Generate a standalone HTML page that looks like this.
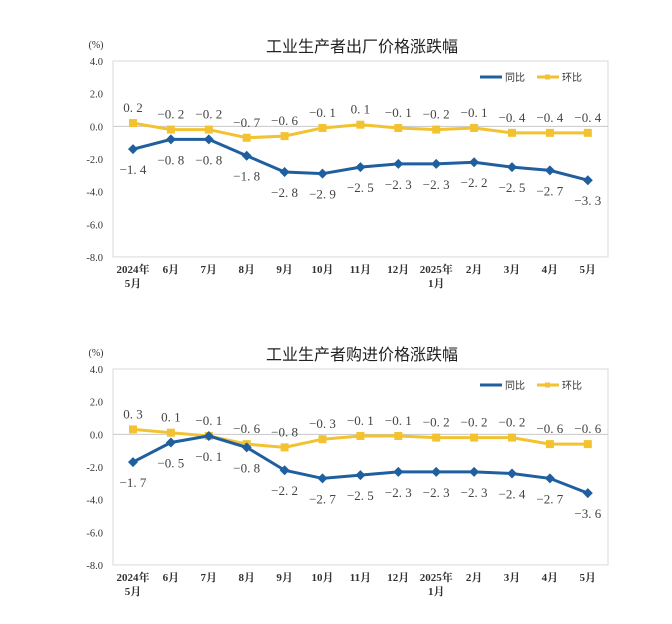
<!DOCTYPE html>
<html><head><meta charset="utf-8"><style>
body{margin:0;background:#fff;width:672px;height:624px;overflow:hidden}
svg{display:block}
</style></head><body>
<svg id="s" width="672" height="624" xmlns="http://www.w3.org/2000/svg"></svg>
<script>
const s=document.getElementById('s');
let h='';
const months=['2024年','6月','7月','8月','9月','10月','11月','12月','2025年','2月','3月','4月','5月'];
function chart(top,title,tb,hb){
  const L=113,R=608,y=v=>top+(4-v)*16.33,bot=y(-8);
  const x=i=>133+i*37.9;
  h+=`<text x="362" y="${top-9}" font-family="Liberation Sans,Noto Sans CJK SC,sans-serif" font-size="16" text-anchor="middle" fill="#222">${title}</text>`;
  h+=`<text x="96" y="${top-13}" font-family="Liberation Serif,serif" font-size="10" text-anchor="middle" fill="#333">(%)</text>`;
  h+=`<rect x="${L}" y="${top}" width="${R-L}" height="${bot-top}" fill="none" stroke="#d9d9d9"/>`;
  h+=`<line x1="${L}" y1="${y(0)}" x2="${R}" y2="${y(0)}" stroke="#c8c8c8"/>`;
  for(let v=4;v>=-8;v-=2){h+=`<text x="103" y="${y(v)+4}" font-family="Liberation Serif,serif" font-size="10.5" text-anchor="end" fill="#333">${v.toFixed(1)}</text>`;}
  months.forEach((m,i)=>{h+=`<text x="${x(i)}" y="${bot+16}" font-family="Liberation Serif,Noto Serif CJK SC,serif" font-size="11" font-weight="bold" text-anchor="middle" fill="#333">${m}</text>`;});
  h+=`<text x="${x(0)}" y="${bot+30}" font-family="Liberation Serif,Noto Serif CJK SC,serif" font-size="11" font-weight="bold" text-anchor="middle" fill="#333">5月</text>`;
  h+=`<text x="${x(8)}" y="${bot+30}" font-family="Liberation Serif,Noto Serif CJK SC,serif" font-size="11" font-weight="bold" text-anchor="middle" fill="#333">1月</text>`;
  // legend
  const ly=top+16;
  h+=`<line x1="480" y1="${ly}" x2="502" y2="${ly}" stroke="#1f5fa0" stroke-width="3"/><text x="505" y="${ly+4}" font-family="Liberation Sans,Noto Sans CJK SC,sans-serif" font-size="10" fill="#333">同比</text>`;
  h+=`<line x1="537" y1="${ly}" x2="559" y2="${ly}" stroke="#f2c230" stroke-width="3"/><rect x="545" y="${ly-2.5}" width="5" height="5" fill="#f2c230"/><text x="562" y="${ly+4}" font-family="Liberation Sans,Noto Sans CJK SC,sans-serif" font-size="10" fill="#333">环比</text>`;
  const fmt=v=>(v<0?'−':'')+Math.abs(v).toFixed(1).replace('.','. ');
  h+=`<polyline points="${hb.map((v,i)=>x(i)+','+y(v)).join(' ')}" fill="none" stroke="#f2c230" stroke-width="3"/>`;
  hb.forEach((v,i)=>{h+=`<rect x="${x(i)-4}" y="${y(v)-4}" width="8" height="8" fill="#f2c230"/>`;});
  h+=`<polyline points="${tb.map((v,i)=>x(i)+','+y(v)).join(' ')}" fill="none" stroke="#1f5fa0" stroke-width="3"/>`;
  tb.forEach((v,i)=>{const X=x(i),Y=y(v);h+=`<polygon points="${X},${Y-5} ${X+5},${Y} ${X},${Y+5} ${X-5},${Y}" fill="#1f5fa0"/>`;});
  hb.forEach((v,i)=>{h+=`<text x="${x(i)}" y="${y(v)-11}" font-family="Liberation Serif,serif" font-size="13" text-anchor="middle" fill="#444">${fmt(v)}</text>`;});
  tb.forEach((v,i)=>{h+=`<text x="${x(i)}" y="${y(v)+25}" font-family="Liberation Serif,serif" font-size="13" text-anchor="middle" fill="#444">${fmt(v)}</text>`;});
}
chart(61,'工业生产者出厂价格涨跌幅',[-1.4,-0.8,-0.8,-1.8,-2.8,-2.9,-2.5,-2.3,-2.3,-2.2,-2.5,-2.7,-3.3],[0.2,-0.2,-0.2,-0.7,-0.6,-0.1,0.1,-0.1,-0.2,-0.1,-0.4,-0.4,-0.4]);
chart(369,'工业生产者购进价格涨跌幅',[-1.7,-0.5,-0.1,-0.8,-2.2,-2.7,-2.5,-2.3,-2.3,-2.3,-2.4,-2.7,-3.6],[0.3,0.1,-0.1,-0.6,-0.8,-0.3,-0.1,-0.1,-0.2,-0.2,-0.2,-0.6,-0.6]);
s.innerHTML=h;
</script>
</body></html>
